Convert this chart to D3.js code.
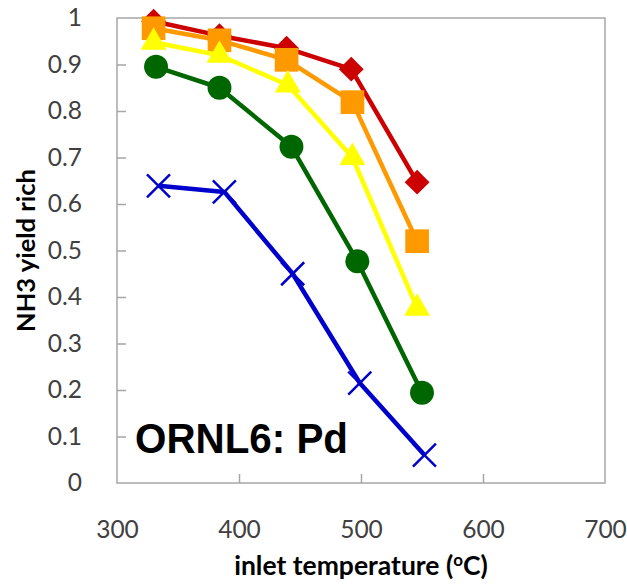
<!DOCTYPE html>
<html>
<head>
<meta charset="utf-8">
<script src="https://cdn.jsdelivr.net/npm/d3@7"></script>
<style>
  body { margin: 0; background: #fff; }
  svg { display: block; }
</style>
</head>
<body>
<script>
// Data
const xTicks = [300, 400, 500, 600, 700];
const yTicks = [0, 0.1, 0.2, 0.3, 0.4, 0.5, 0.6, 0.7, 0.8, 0.9, 1];

const redX = [330, 384, 439, 492, 546];
const redY = [0.993, 0.962, 0.935, 0.890, 0.647];
const orangeX = [330, 384, 439, 493, 546];
const orangeY = [0.978, 0.952, 0.910, 0.819, 0.520];
const yellowX = [330, 384, 440, 493, 546];
const yellowY = [0.948, 0.920, 0.856, 0.700, 0.376];
const greenX = [332, 384, 443, 497, 550];
const greenY = [0.895, 0.850, 0.723, 0.477, 0.194];
const blueX = [334, 388, 444, 499, 552];
const blueY = [0.639, 0.626, 0.450, 0.215, 0.060];

const series = [
    { xs: redX, ys: redY, color: "#cc0000", marker: "diamond" },
    { xs: orangeX, ys: orangeY, color: "#ff9900", marker: "square" },
    { xs: yellowX, ys: yellowY, color: "#ffff00", marker: "triangle" },
    { xs: greenX, ys: greenY, color: "#006600", marker: "circle" },
    { xs: blueX, ys: blueY, color: "#0000cc", marker: "cross" }
];

const width = 627, height = 584;
const margin = { top: 18, right: 22, bottom: 101, left: 117 };

const x = d3.scaleLinear().domain([300, 700]).range([margin.left, width - margin.right]);
const y = d3.scaleLinear().domain([0, 1]).range([height - margin.bottom, margin.top]);

const svg = d3.select("body").append("svg")
    .attr("width", width)
    .attr("height", height)
    .attr("viewBox", [0, 0, width, height]);

// plot frame
svg.append("rect")
    .attr("x", margin.left)
    .attr("y", margin.top)
    .attr("width", width - margin.left - margin.right)
    .attr("height", height - margin.top - margin.bottom)
    .attr("fill", "none")
    .attr("stroke", "#a6a6a6")
    .attr("stroke-width", 1.5);

// axes with inward ticks
const xAxis = svg.append("g")
    .attr("transform", `translate(0,${height - margin.bottom})`)
    .call(d3.axisBottom(x).tickValues(xTicks).tickSize(-9).tickPadding(38).tickFormat(d3.format("d")));
xAxis.select(".domain").remove();
xAxis.selectAll(".tick line").attr("stroke", "#a6a6a6").attr("stroke-width", 1.5);
xAxis.selectAll(".tick").filter(d => d === 300 || d === 700).select("line").remove();
xAxis.selectAll("text")
    .attr("font-family", "Lato, sans-serif")
    .attr("font-size", 24.5)
    .attr("fill", "#404040");

const yAxis = svg.append("g")
    .attr("transform", `translate(${margin.left},0)`)
    .call(d3.axisLeft(y).tickValues(yTicks).tickSize(-9).tickPadding(35).tickFormat(d => d === 0 || d === 1 ? d3.format("d")(d) : d3.format(".1f")(d)));
yAxis.select(".domain").remove();
yAxis.selectAll(".tick line").attr("stroke", "#a6a6a6").attr("stroke-width", 1.5);
yAxis.selectAll(".tick").filter(d => d === 0 || d === 1).select("line").remove();
yAxis.selectAll("text")
    .attr("font-family", "Lato, sans-serif")
    .attr("font-size", 24.5)
    .attr("fill", "#404040");

// axis titles
const xt = svg.append("text")
    .attr("x", (margin.left + width - margin.right) / 2)
    .attr("y", 575)
    .attr("text-anchor", "middle")
    .attr("font-family", "Lato, sans-serif")
    .attr("font-weight", "bold")
    .attr("font-size", 26.5)
    .attr("fill", "#000");
xt.append("tspan").text("inlet temperature (");
xt.append("tspan").attr("dy", -9).attr("font-size", 17).text("o");
xt.append("tspan").attr("dy", 9).text("C)");

svg.append("text")
    .attr("transform", `translate(35,${(margin.top + height - margin.bottom) / 2}) rotate(-90)`)
    .attr("text-anchor", "middle")
    .attr("font-family", "Lato, sans-serif")
    .attr("font-weight", "bold")
    .attr("font-size", 25.5)
    .attr("fill", "#000")
    .text("NH3 yield rich");

// series lines and markers
const line = d3.line().x(d => x(d[0])).y(d => y(d[1]));

const symbolType = {
    diamond: d3.symbolSquare,
    square: d3.symbolSquare,
    triangle: d3.symbolTriangle,
    circle: d3.symbolCircle
};
const symbolSize = { diamond: 310, square: 560, triangle: 290, circle: 450 };

series.forEach(s => {
    const pts = s.xs.map((v, i) => [v, s.ys[i]]);
    const g = svg.append("g");
    g.append("path")
        .datum(pts)
        .attr("d", line)
        .attr("fill", "none")
        .attr("stroke", s.color)
        .attr("stroke-width", 4.5)
        .attr("stroke-linejoin", "round");

    if (s.marker === "cross") {
        const r = 11.5;
        g.selectAll("path.m")
            .data(pts)
            .join("path")
            .attr("class", "m")
            .attr("d", d => {
                const cx = x(d[0]), cy = y(d[1]);
                return `M${cx - r},${cy - r}L${cx + r},${cy + r}M${cx - r},${cy + r}L${cx + r},${cy - r}`;
            })
            .attr("stroke", s.color)
            .attr("stroke-width", 2.5)
            .attr("fill", "none");
    } else {
        const rot = s.marker === "diamond" ? " rotate(45)" : "";
        g.selectAll("path.m")
            .data(pts)
            .join("path")
            .attr("class", "m")
            .attr("transform", d => `translate(${x(d[0])},${y(d[1])})${rot}`)
            .attr("d", d3.symbol().type(symbolType[s.marker]).size(symbolSize[s.marker]))
            .attr("fill", s.color);
    }
});

// annotation
svg.append("text")
    .attr("x", 135)
    .attr("y", 453)
    .attr("font-family", "Liberation Sans, Arial, sans-serif")
    .attr("font-weight", "bold")
    .attr("font-size", 42)
    .attr("textLength", 213)
    .attr("lengthAdjust", "spacingAndGlyphs")
    .attr("fill", "#000")
    .text("ORNL6: Pd");
</script>
</body>
</html>
